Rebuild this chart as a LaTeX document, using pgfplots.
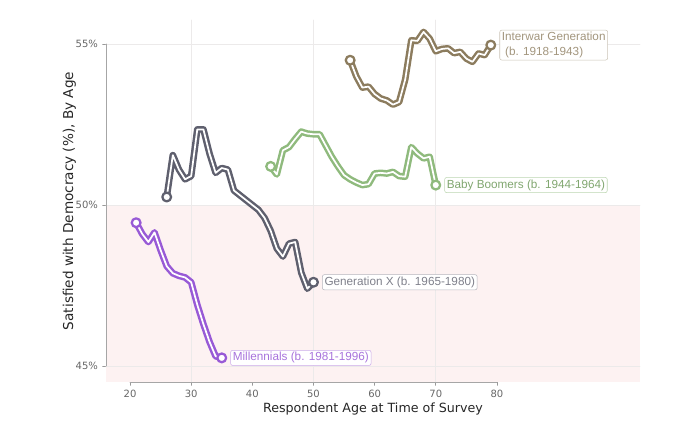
\documentclass[border=0pt]{standalone}
\usepackage{fontspec}
\setmainfont{DejaVu Sans}
\newfontfamily\labfont{Liberation Sans}
\usepackage{pgfplots}
\pgfplotsset{compat=1.18}
\usepackage{pgfplotstable}

\definecolor{mill}{RGB}{152,90,214}
\definecolor{genx}{RGB}{95,96,110}
\definecolor{boom}{RGB}{143,186,125}
\definecolor{inter}{RGB}{140,124,94}
\definecolor{pinkbg}{RGB}{253,242,242}
\definecolor{gridc}{RGB}{236,234,234}

\pgfplotstableread{
age val
21 49.45
22 49.10
23 48.85
24 49.15
25 48.60
26 48.10
27 47.88
28 47.80
29 47.75
30 47.60
31 46.90
32 46.30
33 45.75
34 45.30
35 45.25
}\milltab

\pgfplotstableread{
age val
26 50.25
27 51.55
28 51.10
29 50.80
30 50.90
31 52.35
32 52.35
33 51.60
34 51.00
35 51.15
36 51.10
37 50.45
38 50.30
39 50.15
40 50.00
41 49.85
42 49.60
43 49.20
44 48.65
45 48.40
46 48.80
47 48.85
48 47.90
49 47.40
50 47.60
}\genxtab

\pgfplotstableread{
age val
43 51.20
44 50.95
45 51.70
46 51.80
47 52.05
48 52.28
49 52.22
50 52.20
51 52.20
52 51.85
53 51.50
54 51.20
55 50.93
56 50.80
57 50.70
58 50.62
59 50.65
60 50.98
61 51.00
62 50.98
63 51.03
64 50.90
65 50.88
66 51.80
67 51.60
68 51.45
69 51.50
70 50.62
}\boomtab

\pgfplotstableread{
age val
56 54.50
57 54.00
58 53.65
59 53.68
60 53.45
61 53.31
62 53.25
63 53.12
64 53.20
65 53.90
66 55.12
67 55.10
68 55.38
69 55.17
70 54.78
71 54.85
72 54.87
73 54.72
74 54.76
75 54.55
76 54.45
77 54.71
78 54.66
79 54.97
}\intertab

\begin{document}
\begin{tikzpicture}
\path[use as bounding box] (-79.5pt,-36pt) rectangle (426.75pt,286.5pt);
\begin{axis}[
  at={(0,0)}, anchor=south west,
  scale only axis, width=400.5pt, height=271.5pt,
  xmin=16.07, xmax=103.4, ymin=44.5, ymax=55.75,
  axis line style={draw=none},
  xtick={20,30,40,50,60,70,80},
  ytick={45,50,55}, yticklabels={45\%,50\%,55\%},
  tick align=outside, xtick pos=bottom, ytick pos=left,
  major tick length=2.5pt,
  tick style={black!40, line width=0.6pt},
  ticklabel style={font=\fontsize{7.5}{9}\selectfont, text=black!60},
  /pgf/number format/assume math mode=true,
  xlabel={Respondent Age at Time of Survey},
  ylabel={Satisfied with Democracy (\%), By Age},
  xlabel style={font=\fontsize{9.5}{11}\selectfont, text=black!85, yshift=3pt},
  ylabel style={font=\fontsize{10.2}{12}\selectfont, text=black!85, yshift=-7pt},
  clip=false,
  line join=round, line cap=round,
]
\fill[pinkbg] (axis cs:16.07,44.5) rectangle (axis cs:103.4,50);
\draw[gridc, line width=0.5pt] (axis cs:16.07,45) -- (axis cs:103.4,45);
\draw[gridc, line width=0.5pt] (axis cs:16.07,50) -- (axis cs:103.4,50);
\draw[gridc, line width=0.5pt] (axis cs:16.07,55) -- (axis cs:103.4,55);
\draw[gridc, line width=0.5pt] (axis cs:30,44.5) -- (axis cs:30,55.75);
\draw[gridc, line width=0.5pt] (axis cs:50,44.5) -- (axis cs:50,55.75);
\draw[gridc, line width=0.5pt] (axis cs:70,44.5) -- (axis cs:70,55.75);
\draw[black!35, line width=0.6pt] (axis cs:20,44.5) -- (axis cs:80,44.5);
\draw[black!35, line width=0.6pt] (axis cs:16.07,45) -- (axis cs:16.07,55);

\addplot[mill, line width=5pt] table[x=age,y=val] {\milltab};
\addplot[white, line width=1.3pt, mark=*, mark indices={1,15}, mark size=3.3pt,
  mark options={draw=mill, fill=white, line width=1.7pt}] table[x=age,y=val] {\milltab};

\addplot[genx, line width=5pt] table[x=age,y=val] {\genxtab};
\addplot[white, line width=1.3pt, mark=*, mark indices={1,25}, mark size=3.3pt,
  mark options={draw=genx, fill=white, line width=1.7pt}] table[x=age,y=val] {\genxtab};

\addplot[boom, line width=5pt] table[x=age,y=val] {\boomtab};
\addplot[white, line width=1.3pt, mark=*, mark indices={1,28}, mark size=3.3pt,
  mark options={draw=boom, fill=white, line width=1.7pt}] table[x=age,y=val] {\boomtab};

\addplot[inter, line width=5pt] table[x=age,y=val] {\intertab};
\addplot[white, line width=1.3pt, mark=*, mark indices={1,24}, mark size=3.3pt,
  mark options={draw=inter, fill=white, line width=1.7pt}] table[x=age,y=val] {\intertab};

\node[anchor=west, xshift=6.5pt, fill=white, rounded corners=1.5pt, inner sep=1.6pt, line width=0.4pt, font=\labfont\fontsize{8.8}{11}\selectfont, draw=mill!50, text=mill!85] at (axis cs:35,45.25) {Millennials (b. 1981-1996)};
\node[anchor=west, xshift=6.5pt, fill=white, rounded corners=1.5pt, inner sep=1.6pt, line width=0.4pt, font=\labfont\fontsize{8.8}{11}\selectfont, draw=genx!45, text=genx!80] at (axis cs:50,47.6) {Generation X (b. 1965-1980)};
\node[anchor=west, xshift=6.5pt, fill=white, rounded corners=1.5pt, inner sep=1.6pt, line width=0.4pt, font=\labfont\fontsize{8.8}{11}\selectfont, draw=boom!60, text=boom!90!black] at (axis cs:70,50.62) {Baby Boomers (b. 1944-1964)};
\node[anchor=west, xshift=6.5pt, fill=white, rounded corners=1.5pt, inner sep=1.6pt, line width=0.4pt, font=\labfont\fontsize{8.8}{11}\selectfont, draw=inter!45, text=inter!80, align=left] at (axis cs:79,54.97) {Interwar Generation\\\ (b. 1918-1943)};
\end{axis}
\end{tikzpicture}
\end{document}
